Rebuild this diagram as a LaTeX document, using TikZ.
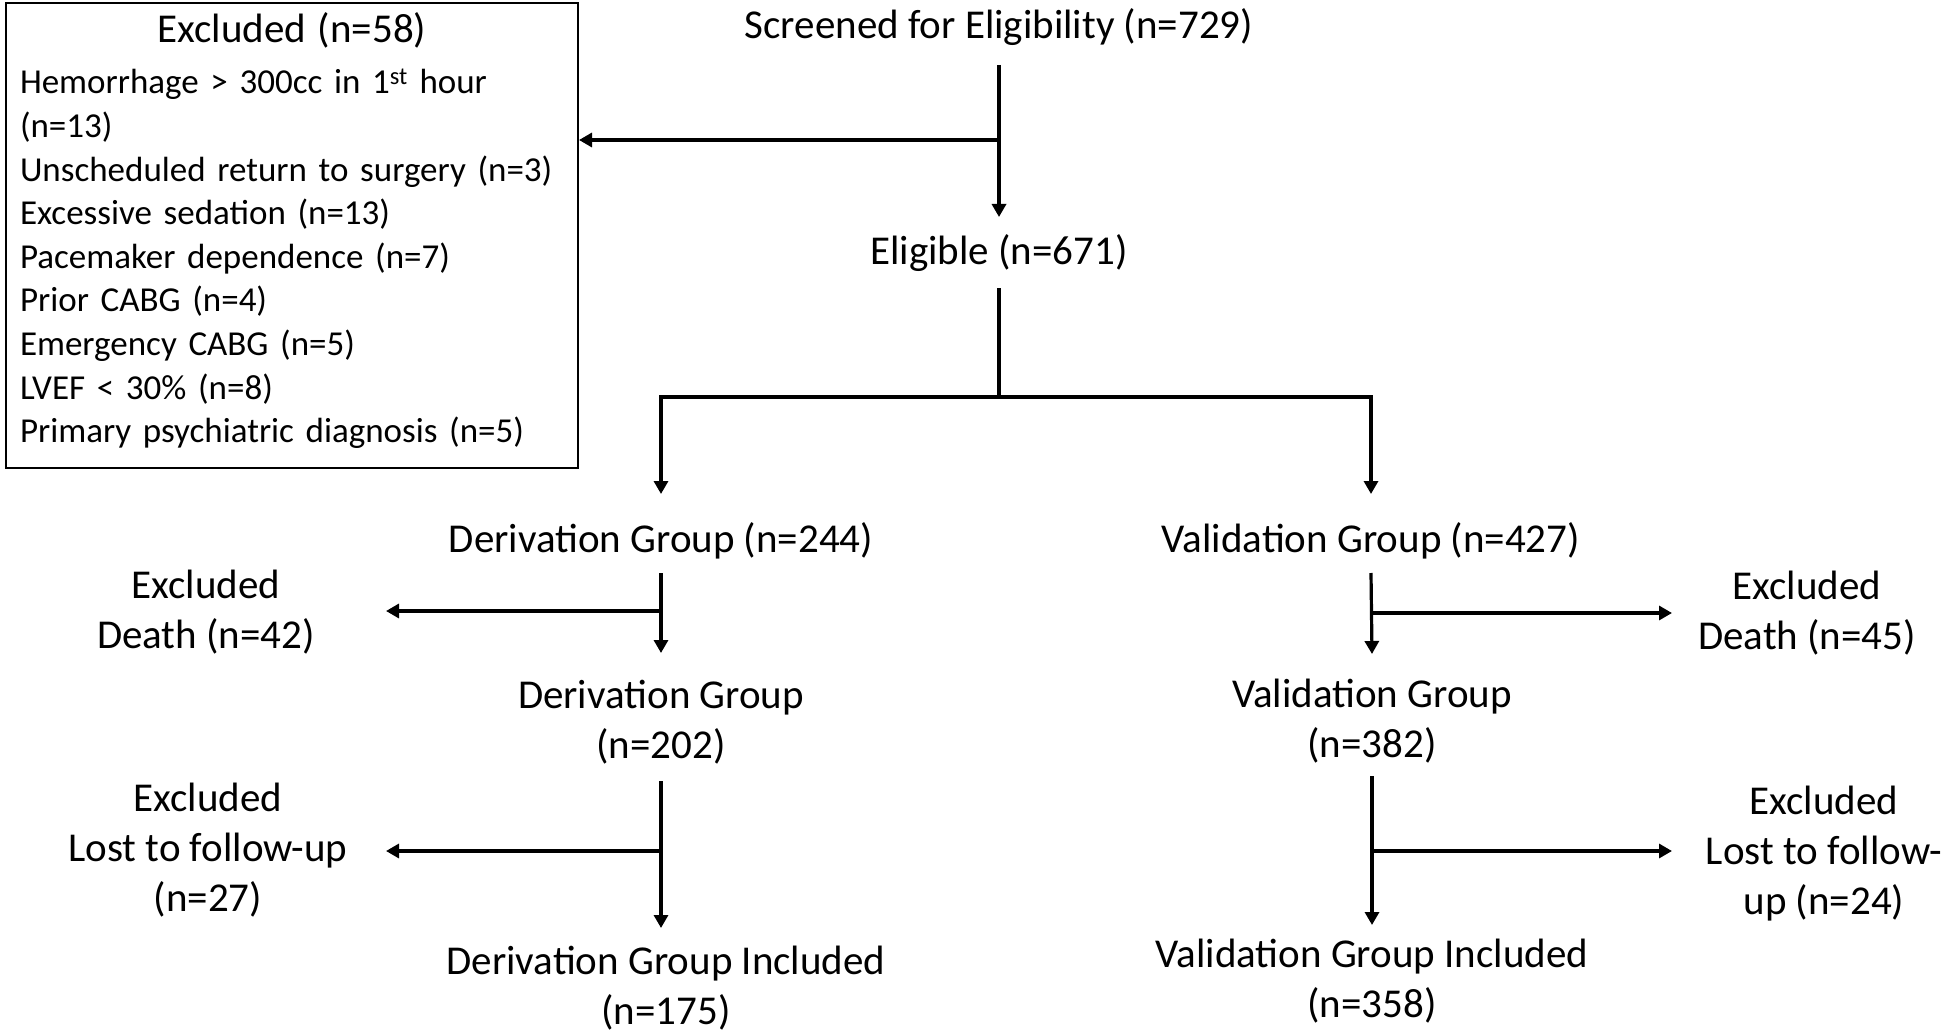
\documentclass[tikz,border=0pt]{standalone}
\usepackage{fontspec}
\setmainfont{Carlito}
\usetikzlibrary{arrows.meta,calc}
\begin{document}
\begin{tikzpicture}[x=1pt,y=-1pt,
  lbl/.style={inner sep=0pt, align=center, font=\fontsize{41}{50}\selectfont},
  conn/.style={line width=3.2pt},
  arr/.style={conn,-{Triangle[length=13pt,width=14pt]}}]
\useasboundingbox (0,0) rectangle (1946,1035);
\node[draw, line width=2pt, anchor=north west, minimum width=572pt, minimum height=465pt,
  inner xsep=14pt, inner ysep=0pt, text width=544pt, align=left,
  font=\fontsize{35}{43.6}\selectfont] (box) at (5,2)
  {\makebox[544pt]{\fontsize{41}{43.6}\selectfont Excluded (n=58)}\\[8pt]
   \mbox{Hemorrhage > 300cc in 1\textsuperscript{st} hour}\\
   (n=13)\\
   \mbox{Unscheduled return to surgery (n=3)}\\
   \mbox{Excessive sedation (n=13)}\\
   \mbox{Pacemaker dependence (n=7)}\\
   \mbox{Prior CABG (n=4)}\\
   \mbox{Emergency CABG (n=5)}\\
   \mbox{LVEF < 30\% (n=8)}\\
   \mbox{Primary psychiatric diagnosis (n=5)}\rule[-16pt]{0pt}{16pt}};
\node[lbl] (scr) at (999,27) {Screened for Eligibility (n=729)};
\node[lbl] (elig) at (999,253) {Eligible (n=671)};
\node[lbl] (der1) at (661,541) {Derivation Group (n=244)};
\node[lbl] (val1) at (1371,541) {Validation Group (n=427)};
\node[lbl] (der2) at (661,722) {Derivation Group\\(n=202)};
\node[lbl] (val2) at (1372,721) {Validation Group\\(n=382)};
\node[lbl] (der3) at (666,988) {Derivation Group Included\\(n=175)};
\node[lbl] (val3) at (1372,981) {Validation Group Included\\(n=358)};
\node[lbl] (exd1) at (206,612) {Excluded\\Death (n=42)};
\node[lbl] (exd2) at (208,850) {Excluded\\Lost to follow-up\\(n=27)};
\node[lbl] (exv1) at (1807,613) {Excluded\\Death (n=45)};
\node[lbl] (exv2) at (1824,854) {Excluded\\Lost to follow-\\up (n=24)};
% top
\coordinate (j0) at ($(scr.center)+(0,113)$);
\draw[arr] ($(scr.center)+(0,38)$) -- ($(elig.center)+(0,-36)$);
\draw[arr] (j0) -- (j0 -| box.east);
\coordinate (j1) at ($(elig.center)+(0,144)$);
\draw[conn] ($(elig.center)+(0,35)$) -- (j1);
\draw[conn, line cap=rect] (j1 -| der1.center) -- (j1 -| val1.center);
\draw[arr] (j1 -| der1.center) -- ($(der1.center)+(0,-47)$);
\draw[arr] (j1 -| val1.center) -- ($(val1.center)+(0,-47)$);
% derivation
\draw[arr] ($(der1.center)+(0,32)$) -- ($(der2.center)+(0,-69)$);
\coordinate (j2) at ($(der1.center)+(0,70)$);
\draw[arr] (j2) -- ($(j2 -| exd1.center)+(180,0)$);
\draw[arr] ($(der2.center)+(0,59)$) -- ($(der2.center |- der3.center)+(0,-60)$);
\coordinate (j3) at ($(der2.center)+(0,129)$);
\draw[arr] (j3) -- ($(j3 -| exd2.center)+(178,0)$);
% validation
\draw[arr] ($(val1.center)+(0,32)$) -- ($(val2.center)+(0,-67)$);
\coordinate (j4) at ($(val1.center)+(0,72)$);
\draw[arr] (j4) -- ($(j4 -| exv1.center)+(-135,0)$);
\draw[arr] ($(val2.center)+(0,55)$) -- ($(val2.center |- val3.center)+(0,-56)$);
\coordinate (j5) at ($(val2.center)+(0,130)$);
\draw[arr] (j5) -- ($(j5 -| exv2.center)+(-152,0)$);
\end{tikzpicture}
\end{document}
